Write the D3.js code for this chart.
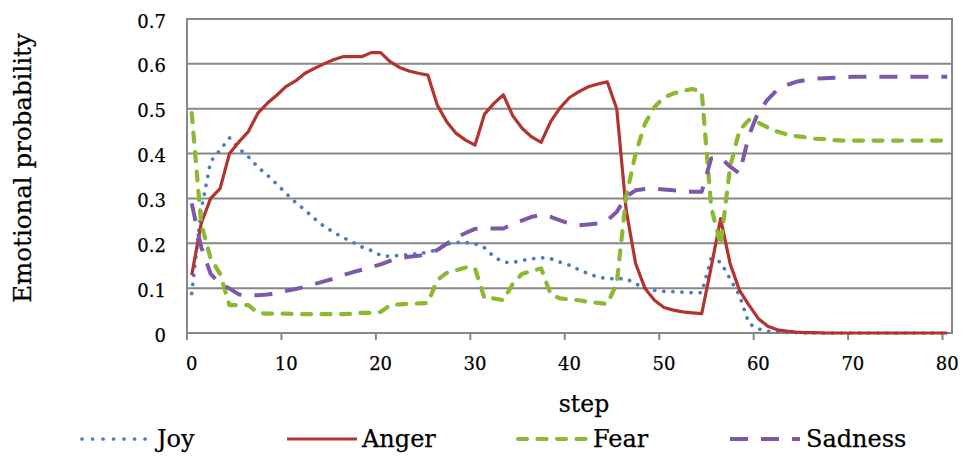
<!DOCTYPE html>
<html>
<head>
<meta charset="utf-8">
<script src="https://cdn.jsdelivr.net/npm/d3@7"></script>
<style>
  html, body { margin: 0; padding: 0; background: #fff; }
  svg text { font-family: "DejaVu Serif", serif; fill: #000; stroke: #000; stroke-width: 0.25px; }
</style>
</head>
<body>
<svg id="chart" width="964" height="457"></svg>
<script>
// Emotion probabilities per step (steps 0..80)
const steps = d3.range(0, 81);

const joy = [
  0.088, 0.274, 0.382, 0.408, 0.435, 0.411, 0.393, 0.370, 0.352, 0.332,
  0.311, 0.291, 0.274, 0.255, 0.238, 0.225, 0.213, 0.203, 0.192, 0.184,
  0.173, 0.171, 0.173, 0.175, 0.177, 0.180, 0.186, 0.198, 0.202, 0.202,
  0.199, 0.190, 0.170, 0.158, 0.157, 0.162, 0.165, 0.168, 0.166, 0.158,
  0.151, 0.141, 0.132, 0.125, 0.121, 0.121, 0.121, 0.110, 0.099, 0.095,
  0.093, 0.092, 0.091, 0.090, 0.090, 0.166, 0.158, 0.121, 0.084, 0.021,
  0.009, 0.004, 0.002, 0.001, 0.001, 0.000, 0.000, 0.000, 0.000, 0.000,
  0.000, 0.000, 0.000, 0.000, 0.000, 0.000, 0.000, 0.000, 0.000, 0.000,
  0.000
];

const anger = [
  0.129, 0.244, 0.300, 0.322, 0.400, 0.426, 0.449, 0.490, 0.512, 0.530,
  0.550, 0.562, 0.579, 0.590, 0.600, 0.609, 0.616, 0.616, 0.616, 0.625,
  0.625, 0.605, 0.592, 0.584, 0.579, 0.575, 0.508, 0.471, 0.445, 0.430,
  0.419, 0.488, 0.512, 0.531, 0.484, 0.456, 0.437, 0.425, 0.471, 0.502,
  0.525, 0.538, 0.549, 0.555, 0.560, 0.500, 0.274, 0.155, 0.099, 0.073,
  0.057, 0.051, 0.047, 0.045, 0.043, 0.147, 0.255, 0.155, 0.095, 0.062,
  0.032, 0.015, 0.007, 0.004, 0.002, 0.001, 0.001, 0.000, 0.000, 0.000,
  0.000, 0.000, 0.000, 0.000, 0.000, 0.000, 0.000, 0.000, 0.000, 0.000,
  0.000
];

const fear = [
  0.490, 0.244, 0.166, 0.132, 0.062, 0.062, 0.062, 0.045, 0.043, 0.043,
  0.043, 0.042, 0.042, 0.042, 0.042, 0.042, 0.042, 0.043, 0.045, 0.045,
  0.047, 0.062, 0.064, 0.065, 0.066, 0.067, 0.118, 0.134, 0.140, 0.146,
  0.144, 0.077, 0.077, 0.073, 0.110, 0.132, 0.138, 0.144, 0.086, 0.077,
  0.075, 0.073, 0.069, 0.067, 0.065, 0.110, 0.304, 0.400, 0.467, 0.504,
  0.525, 0.534, 0.540, 0.544, 0.538, 0.281, 0.196, 0.370, 0.452, 0.475,
  0.469, 0.458, 0.449, 0.443, 0.439, 0.436, 0.433, 0.432, 0.430, 0.429,
  0.429, 0.429, 0.429, 0.429, 0.429, 0.429, 0.429, 0.429, 0.429, 0.429,
  0.429
];

const sadness = [
  0.289, 0.192, 0.132, 0.110, 0.099, 0.086, 0.084, 0.084, 0.086, 0.089,
  0.094, 0.098, 0.103, 0.109, 0.115, 0.121, 0.129, 0.135, 0.141, 0.147,
  0.153, 0.161, 0.167, 0.170, 0.172, 0.176, 0.185, 0.199, 0.213, 0.223,
  0.232, 0.233, 0.233, 0.233, 0.243, 0.251, 0.259, 0.263, 0.259, 0.251,
  0.244, 0.240, 0.242, 0.244, 0.251, 0.270, 0.304, 0.318, 0.321, 0.322,
  0.320, 0.318, 0.317, 0.315, 0.315, 0.389, 0.391, 0.371, 0.356, 0.440,
  0.493, 0.521, 0.542, 0.553, 0.560, 0.564, 0.567, 0.568, 0.569, 0.570,
  0.571, 0.571, 0.571, 0.571, 0.571, 0.571, 0.571, 0.571, 0.571, 0.571,
  0.571
];

const xTickLabels = [0, 10, 20, 30, 40, 50, 60, 70, 80];
const yTickValues = [0, 0.1, 0.2, 0.3, 0.4, 0.5, 0.6, 0.7];

const seriesNames = ["Joy", "Anger", "Fear", "Sadness"];
const seriesValues = [joy, anger, fear, sadness];

const styles = {
  Joy:     { color: "#4a7dc0", width: 3.7, dash: "0.1 9",   cap: "round" },
  Anger:   { color: "#b2332f", width: 3.2, dash: null,      cap: "butt" },
  Fear:    { color: "#8db832", width: 4.2, dash: "9 10.5",  cap: "round" },
  Sadness: { color: "#7e58a8", width: 4.0, dash: "18 13",   cap: "butt" }
};

const svg = d3.select("#chart");
const plot = { left: 187, top: 19, right: 952, bottom: 333 };

// Category axis: 81 categories, each point drawn in the middle of its slot
const x = d3.scaleLinear().domain([0, 81]).range([plot.left, plot.right]);
const y = d3.scaleLinear().domain([0, 0.7]).range([plot.bottom, plot.top]);

const gridColor = "#878787";

// Horizontal gridlines
svg.append("g")
  .selectAll("line")
  .data(yTickValues)
  .join("line")
  .attr("x1", plot.left).attr("x2", plot.right)
  .attr("y1", d => y(d)).attr("y2", d => y(d))
  .attr("stroke", gridColor).attr("stroke-width", 2);

// Plot border
svg.append("rect")
  .attr("x", plot.left).attr("y", plot.top)
  .attr("width", plot.right - plot.left).attr("height", plot.bottom - plot.top)
  .attr("fill", "none").attr("stroke", gridColor).attr("stroke-width", 2);

// Y axis labels
const yAxis = d3.axisLeft(y)
  .tickValues(yTickValues)
  .tickFormat(d => d === 0 ? "0" : d3.format(".1f")(d))
  .tickSize(0).tickPadding(21);
const gy = svg.append("g").attr("transform", `translate(${plot.left},0)`).call(yAxis);
gy.select(".domain").remove();
gy.selectAll("text")
  .attr("dy", "0.45em")
  .style("font-size", "18px")
  .style("font-family", "DejaVu Serif, serif");

// X axis: tick marks at category boundaries, labels at category centres
const gx = svg.append("g").attr("transform", `translate(0,${plot.bottom})`);
gx.selectAll("line")
  .data(xTickLabels)
  .join("line")
  .attr("x1", d => x(d)).attr("x2", d => x(d))
  .attr("y1", 0).attr("y2", 7)
  .attr("stroke", gridColor).attr("stroke-width", 2);
gx.selectAll("text")
  .data(xTickLabels)
  .join("text")
  .attr("x", d => x(d + 0.5))
  .attr("y", 37)
  .attr("text-anchor", "middle")
  .style("font-size", "18px")
  .text(d => d);

// Axis titles
svg.append("text")
  .attr("x", 584).attr("y", 412)
  .attr("text-anchor", "middle")
  .style("font-size", "23.5px")
  .text("step");

svg.append("text")
  .attr("transform", `translate(31,${(plot.top + plot.bottom) / 2 - 8}) rotate(-90)`)
  .attr("text-anchor", "middle")
  .style("font-size", "24.5px")
  .text("Emotional probability");

// Series lines
const line = d3.line()
  .x((d, i) => x(steps[i] + 0.5))
  .y(d => y(d));

const linesG = svg.append("g");
seriesNames.forEach((name, k) => {
  const s = styles[name];
  linesG.append("path")
    .datum(seriesValues[k])
    .attr("d", line)
    .attr("fill", "none")
    .attr("stroke", s.color)
    .attr("stroke-width", s.width)
    .attr("stroke-linecap", s.cap)
    .attr("stroke-linejoin", "round")
    .attr("stroke-dasharray", s.dash);
});

// Legend
const legendItems = [
  { name: "Joy",     x0: 82,  x1: 148, tx: 157, dash: "0.1 10.4" },
  { name: "Anger",   x0: 287, x1: 357, tx: 362, dash: null },
  { name: "Fear",    x0: 518, x1: 586, tx: 593, dash: "9 10.5" },
  { name: "Sadness", x0: 730, x1: 800, tx: 806, dash: "18 13" }
];
const legendY = 439;
const lg = svg.append("g");
legendItems.forEach(it => {
  const s = styles[it.name];
  lg.append("line")
    .attr("x1", it.x0).attr("x2", it.x1)
    .attr("y1", legendY).attr("y2", legendY)
    .attr("stroke", s.color)
    .attr("stroke-width", s.width)
    .attr("stroke-linecap", s.cap)
    .attr("stroke-dasharray", it.dash);
  lg.append("text")
    .attr("x", it.tx).attr("y", legendY + 8)
    .style("font-size", "24px")
    .text(it.name);
});
</script>
</body>
</html>
